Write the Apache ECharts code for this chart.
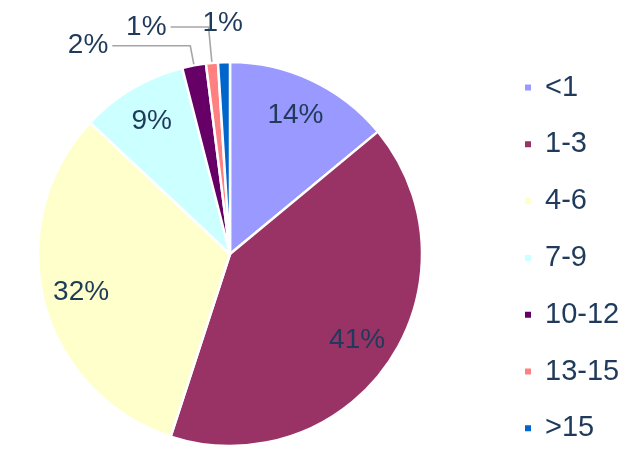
<!DOCTYPE html>
<html>
<head>
<meta charset="utf-8">
<script src="https://cdn.jsdelivr.net/npm/echarts@6/dist/echarts.min.js"></script>
<style>html,body{margin:0;padding:0;background:#fff;}#c{width:640px;height:464px;}</style>
</head>
<body>
<div id="c"></div>
<script>
const categories = ['<1', '1-3', '4-6', '7-9', '10-12', '13-15', '>15'];
const shares = [14, 41, 32, 9, 2, 1, 1];
const colors = ['#9999FF', '#993366', '#FFFFCC', '#CCFFFF', '#660066', '#FF8080', '#0066CC'];

const textColor = '#1F3A5A';
const font = 'Liberation Sans, Arial, sans-serif';
const R = 192;
const centerPt = [230, 254];

// label placement groups (indices into categories)
const withLeader = { 4: { length: 20, length2: 78 }, 5: { length: 36, length2: 38 } };
const aboveOnly = { 6: true };

const mainData = categories.map((name, i) => {
  const item = { name, value: shares[i], itemStyle: { color: colors[i] } };
  if (withLeader[i]) {
    item.label = { show: true, position: 'outside' };
    item.labelLine = {
      show: true,
      length: withLeader[i].length,
      length2: withLeader[i].length2,
      smooth: false,
      lineStyle: { color: '#A6A6A6', width: 1.6 }
    };
  }
  return item;
});

const innerLabelData = categories.map((name, i) => ({
  name,
  value: shares[i],
  label: { show: !withLeader[i] && !aboveOnly[i] }
}));

const aboveLabelData = categories.map((name, i) => ({
  name,
  value: shares[i],
  label: { show: !!aboveOnly[i] }
}));

const labelFont = { fontFamily: font, fontSize: 28, color: textColor };

const chart = echarts.init(document.getElementById('c'), null, { renderer: 'canvas' });
chart.setOption({
  animation: false,
  backgroundColor: '#ffffff',
  color: colors,
  legend: {
    orient: 'vertical',
    left: 518,
    top: 68,
    itemWidth: 8,
    itemHeight: 8,
    itemGap: 27.8,
    icon: 'rect',
    selectedMode: false,
    data: categories,
    textStyle: {
      fontFamily: font,
      fontSize: 29,
      lineHeight: 28,
      color: textColor,
      padding: [0, 0, 0, 8]
    }
  },
  series: [
    {
      type: 'pie',
      center: centerPt,
      radius: R,
      startAngle: 90,
      clockwise: true,
      avoidLabelOverlap: false,
      silent: true,
      itemStyle: { borderColor: '#ffffff', borderWidth: 2.5 },
      label: Object.assign({ show: false, formatter: '{d}%', distanceToLabelLine: 4 }, labelFont),
      labelLine: { show: false },
      data: mainData
    },
    {
      type: 'pie',
      center: centerPt,
      radius: [R * 0.57, R],
      startAngle: 90,
      clockwise: true,
      silent: true,
      emphasis: { disabled: true },
      itemStyle: { color: 'rgba(0,0,0,0)', borderWidth: 0 },
      label: Object.assign({ position: 'inside', formatter: '{d}%' }, labelFont),
      labelLine: { show: false },
      data: innerLabelData
    },
    {
      type: 'pie',
      center: centerPt,
      radius: [R, R + 72],
      startAngle: 90,
      clockwise: true,
      silent: true,
      emphasis: { disabled: true },
      itemStyle: { color: 'rgba(0,0,0,0)', borderWidth: 0 },
      label: Object.assign({ position: 'inside', formatter: '{d}%' }, labelFont),
      labelLine: { show: false },
      data: aboveLabelData
    }
  ]
});
</script>
</body>
</html>
